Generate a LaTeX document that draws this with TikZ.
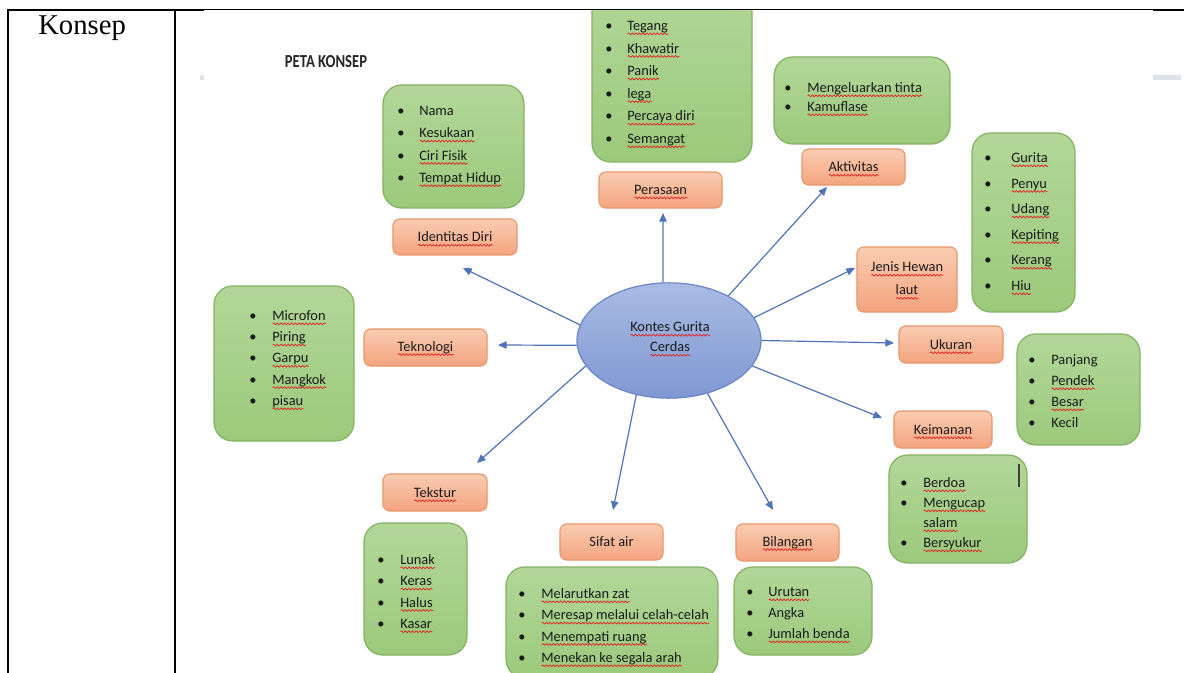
\documentclass[tikz,border=0pt]{standalone}
\usepackage{fontspec}
\setmainfont{Carlito}
\newfontfamily\timesf{Liberation Serif}
\usetikzlibrary{fit,shapes.geometric,arrows.meta,decorations.pathmorphing}
\definecolor{gfillA}{HTML}{B2D798}
\definecolor{gfillB}{HTML}{9CC97C}
\definecolor{gline}{HTML}{84B264}
\definecolor{ofillA}{HTML}{F9CCB1}
\definecolor{ofillB}{HTML}{F4A47F}
\definecolor{oline}{HTML}{E8956C}
\definecolor{efillA}{HTML}{A9BBE4}
\definecolor{efillB}{HTML}{8098D2}
\definecolor{eline}{HTML}{6A86C6}
\definecolor{arrc}{HTML}{4F74B8}
\definecolor{sqred}{HTML}{E02424}
\definecolor{markc}{HTML}{DCE3EC}
\definecolor{txt}{HTML}{1A1A1A}
\newsavebox\sqbox
\newdimen\sqlen
\newcommand\sq[1]{\sbox\sqbox{#1}\sqlen=\wd\sqbox\rlap{\smash{\tikz[baseline=0pt,x=1pt,y=1pt,sharp corners]\draw[sqred,line width=0.55pt,decorate,decoration={snake,amplitude=0.65pt,segment length=2.7pt}] (0pt,-2.5pt) -- (\sqlen,-2.5pt);}}\usebox\sqbox}
\newcommand\blist[6]{\foreach \itm [count=\cnt] in {#6} {\node[item] (#1\cnt) at (#2,{#3+(\cnt-1)*#4}) {\makebox[#5pt][l]{\textbullet}\itm};}}
\tikzset{
  gbox/.style={draw=gline, line width=0.9pt, rounded corners=14pt, top color=gfillA, bottom color=gfillB, inner sep=0pt},
  obox/.style={draw=oline, line width=0.8pt, rounded corners=5pt, top color=ofillA, bottom color=ofillB, inner sep=0pt},
  lab/.style={inner sep=0pt, text=txt, font=\fontsize{10.8}{13}\selectfont},
  arr/.style={draw=arrc, line width=0.9pt, -{Triangle[length=6.5pt,width=5.5pt]}},
  item/.style={anchor=base west, inner sep=0pt, text=txt, font=\fontsize{10.8}{13}\selectfont}
}
\begin{document}
\begin{tikzpicture}[x=0.75pt,y=-0.75pt]
\useasboundingbox (0,0) rectangle (1184,673);
\fill[white] (0,0) rectangle (1184,673);
\node[anchor=base west, inner sep=0pt, font=\timesf\fontsize{21.5}{24}\selectfont] (konsep) at (38,35) {Konsep};
\begin{scope}
\clip (176,10) rectangle (1184,673);
\fill[markc] (200,75) rectangle (204,80);
\fill[markc] (1153,75) rectangle (1181,80);
\node[anchor=base, inner sep=0pt, font=\bfseries\fontsize{11}{13}\selectfont, text=black!85] (peta) at (326,67.5) {\scalebox{1}[1.25]{PETA KONSEP}};
% green boxes
\node[gbox, fit={(592,-20)(752,162)}] (gPer) {};
\node[gbox, fit={(774,57)(950,144)}] (gAkt) {};
\node[gbox, fit={(383,85)(524,208)}] (gIde) {};
\node[gbox, fit={(972,133)(1075,312)}] (gJen) {};
\node[gbox, fit={(1017,334)(1140,445)}] (gUku) {};
\node[gbox, fit={(889,455)(1027,563)}] (gKei) {};
\node[gbox, fit={(214,286)(354,441)}] (gTkn) {};
\node[gbox, fit={(364,523)(467,655)}] (gTek) {};
\node[gbox, fit={(506,567)(718,678)}] (gSif) {};
\node[gbox, fit={(734,567)(872,655)}] (gBil) {};
% orange labels
\node[obox, fit={(599,172)(722,208)}] (perasaan) {};
\node[obox, fit={(802,149)(905,185)}] (aktivitas) {};
\node[obox, fit={(393,219)(517,255)}] (identitas) {};
\node[obox, fit={(857,247)(957,312)}] (jenis) {};
\node[obox, fit={(899,326)(1003,363)}] (ukuran) {};
\node[obox, fit={(894,411)(992,448)}] (keimanan) {};
\node[obox, fit={(364,329)(487,366)}] (teknologi) {};
\node[obox, fit={(383,474)(487,511)}] (tekstur) {};
\node[obox, fit={(560,524)(663,560)}] (sifat) {};
\node[obox, fit={(736,524)(839,561)}] (bilangan) {};
\node[lab] (perasaanT) at (perasaan) {\sq{Perasaan}};
\node[lab] (aktivitasT) at (aktivitas) {\sq{Aktivitas}};
\node[lab] (identitasT) at (identitas) {\sq{Identitas Diri}};
\node[lab] (jenisT1) at (907,267) {\sq{Jenis Hewan}};
\node[lab] (jenisT2) at (907,290) {\sq{laut}};
\node[lab] (ukuranT) at (ukuran) {\sq{Ukuran}};
\node[lab] (keimananT) at (keimanan) {\sq{Keimanan}};
\node[lab] (teknologiT) at (teknologi) {\sq{Teknologi}};
\node[lab] (teksturT) at (tekstur) {\sq{Tekstur}};
\node[lab] (sifatT) at (sifat) {Sifat air};
\node[lab] (bilanganT) at (bilangan) {\sq{Bilangan}};
% central ellipse
\node[ellipse, draw=eline, line width=0.9pt, top color=efillA, bottom color=efillB, minimum width=138pt, minimum height=86.5pt, inner sep=0pt] (ell) at (669,340.5) {};
\node[lab] (ellT1) at (670,327) {\sq{Kontes Gurita}};
\node[lab] (ellT2) at (670,347) {\sq{Cerdas}};
% lists
\blist{per}{605}{30.5}{22.6}{16.5}{\sq{Tegang},\sq{Khawatir},\sq{Panik},\sq{lega},\sq{Percaya diri},\sq{Semangat}}
\blist{akt}{784}{92.5}{19}{17.25}{\sq{Mengeluarkan tinta},\sq{Kamuflase}}
\blist{ide}{397}{115.5}{22.3}{16.5}{Nama,\sq{Kesukaan},\sq{Ciri Fisik},\sq{Tempat Hidup}}
\blist{jen}{984}{162.5}{25.6}{20.25}{\sq{Gurita},\sq{Penyu},\sq{Udang},\sq{Kepiting},\sq{Kerang},\sq{Hiu}}
\blist{uku}{1028}{364.5}{21}{17.25}{Panjang,\sq{Pendek},\sq{Besar},Kecil}
\blist{tkn}{249}{320.5}{21.25}{17.25}{\sq{Microfon},\sq{Piring},\sq{Garpu},\sq{Mangkok},\sq{pisau}}
\blist{tek}{377}{564.5}{21.3}{17.25}{\sq{Lunak},\sq{Keras},\sq{Halus},\sq{Kasar}}
\blist{sif}{518}{598.5}{21.3}{17.25}{\sq{Melarutkan zat},\sq{Meresap melalui celah-celah},\sq{Menempati ruang},\sq{Menekan ke segala arah}}
\blist{bil}{746}{596.5}{21}{16.5}{\sq{Urutan},Angka,\sq{Jumlah benda}}
\node[item] (kei1) at (900,487.5) {\makebox[17.25pt][l]{\textbullet}\sq{Berdoa}};
\node[item] (kei2) at (900,507.5) {\makebox[17.25pt][l]{\textbullet}\sq{Mengucap}};
\node[item] (kei3) at (900,527.5) {\makebox[17.25pt][l]{}\sq{salam}};
\node[item] (kei4) at (900,547.5) {\makebox[17.25pt][l]{\textbullet}\sq{Bersyukur}};
\draw[black!75, line width=0.8pt] (1019,464) -- (1019,487);
% arrow tips
\coordinate (tPer) at (663,213);
\coordinate (tAkt) at (827,187);
\coordinate (tJen) at (855,268);
\coordinate (tUku) at (894,343);
\coordinate (tKei) at (882,418);
\coordinate (tBil) at (773,510);
\coordinate (tSif) at (613,510);
\coordinate (tTek) at (477,463);
\coordinate (tTkn) at (498,345);
\coordinate (tIde) at (463,268);
\draw[arr] (ell.96) -- (tPer);
\draw[arr] (ell.37) -- (tAkt);
\draw[arr] (ell.15) -- (tJen);
\draw[arr] (ell.0.6) -- (tUku);
\draw[arr] (ell.-17.6) -- (tKei);
\draw[arr] (ell.-54.5) -- (tBil);
\draw[arr] (ell.-121) -- (tSif);
\draw[arr] (ell.197) -- (tTek);
\draw[arr] (ell.183) -- (tTkn);
\draw[arr] (ell.170.4) -- (tIde);
\end{scope}
% table borders
\draw[line width=1.2pt] (8,9.5) -- (8,673);
\draw[line width=1.2pt] (175,9.5) -- (175,673);
\draw[line width=1.3pt] (7,10) -- (204,10);
\draw[line width=0.8pt] (204,9.5) -- (1153,9.5);
\draw[line width=1.3pt] (1153,10) -- (1184,10);
\end{tikzpicture}
\end{document}
